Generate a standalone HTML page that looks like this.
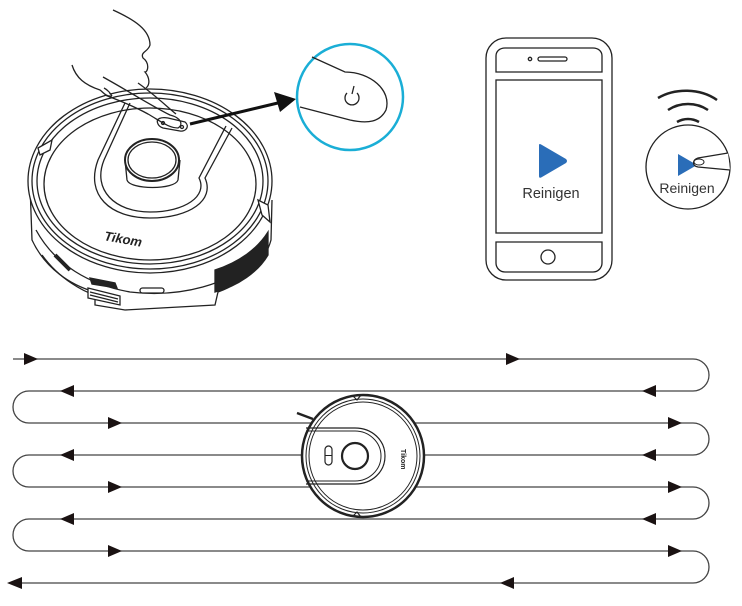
<!DOCTYPE html>
<html><head><meta charset="utf-8"><style>
html,body{margin:0;padding:0;background:#fff;}
svg{display:block;}
text{font-family:"Liberation Sans",sans-serif;}
</style></head><body>
<svg width="742" height="606" viewBox="0 0 742 606" xmlns="http://www.w3.org/2000/svg">

<!-- ===== Robot top-left ===== -->
<g fill="none" stroke="#222" stroke-width="1.3">
  <!-- skirt -->
  <path d="M30,185 L32,240 C45,268 70,285 95,292 L95,305 L125,310 L215,305 L218,292 C245,282 265,262 271,240 L272,200" fill="#fff"/>
  <path d="M36,230 C55,265 90,285 130,292 C180,298 230,285 262,255"/>
  <path d="M42,255 C60,280 85,292 95,295"/>
  <!-- dark side grille -->
  <path d="M215,292 L215,270 C240,262 258,248 268,232 L268,255 C258,272 238,286 215,292z" fill="#222"/>
  <!-- top face -->
  <ellipse cx="150" cy="181" rx="122" ry="92" fill="#fff"/>
  <ellipse cx="150" cy="181" rx="118" ry="88"/>
  <ellipse cx="150" cy="181" rx="113" ry="83"/>
  <ellipse cx="150" cy="184" rx="106" ry="76"/>
  <!-- bumper ends -->
  <path d="M38,148 L52,140 L50,150 L40,155z" fill="#fff"/>
  <path d="M258,200 L268,205 L270,222 L262,215z" fill="#fff"/>
  <!-- D panel -->
  <path d="M125,103 L98,160 C85,195 110,218 150,218 C190,218 215,200 205,178 L232,128"/>
  <path d="M130,103 L104,160 C92,190 115,212 150,212 C185,212 208,196 199,178 L226,126"/>
  <!-- knob -->
  <path d="M125,160 L127,180 C130,190 175,190 178,180 L180,160" fill="#fff"/>
  <ellipse cx="152" cy="160" rx="27" ry="21" fill="#fff" stroke-width="2"/>
  <ellipse cx="152" cy="160" rx="24" ry="18"/>
  <!-- power button -->
  <path d="M158,124 C155,118 162,117 168,118 L185,122 C190,126 186,132 180,131 L163,128 C160,127 159,126 158,124z" fill="#fff"/>
  <circle cx="163" cy="123" r="1.5"/><circle cx="182" cy="127" r="1.5"/>
  <!-- ports -->
  <path d="M55,255 L70,270" stroke-width="4"/>
  <path d="M90,278 L115,283 L117,288 L92,284z" fill="#222"/>
  <path d="M88,288 L120,296 L120,305 L88,298z" fill="#fff"/>
  <path d="M90,292 L118,299 M90,295 L118,302" />
  <rect x="140" y="288" width="24" height="5" rx="2.5"/>
  <!-- hand -->
  <path d="M113,10 C135,20 150,30 150,45 C148,52 140,52 143,58 C150,63 148,72 145,72 C150,78 150,85 146,88" fill="#fff"/>
  <path d="M72,65 C76,78 85,85 100,90 C103,92 106,97 112,96" fill="#fff"/>
  <path d="M103,77 C130,92 150,105 170,115 C182,118 183,125 178,128 C170,128 165,124 148,114 C130,104 112,98 105,95"/>
  <path d="M138,83 C155,95 165,105 176,114"/>
  <path d="M104,88 C108,90 110,93 112,96"/>
</g>
<text x="104" y="243" font-size="13" font-weight="bold" font-style="italic" fill="#222" transform="rotate(10 120 240)">Tikom</text>

<!-- arrow to zoom circle -->
<path d="M190,124 L282,102" stroke="#111" stroke-width="3" fill="none"/>
<path d="M296,99 L274,92 L280,112z" fill="#111"/>
<!-- blue circle -->
<circle cx="350" cy="97" r="53" fill="#fff" stroke="#1aaed6" stroke-width="2.5"/>
<path d="M312,57 L345,72 C370,72 392,90 386,110 C380,122 368,124 350,120 L300,107" fill="none" stroke="#222" stroke-width="1.3"/>
<path d="M347,93 A7,7 0 1 0 357,93" fill="none" stroke="#222" stroke-width="1.3"/>
<path d="M354,86 L352,94" stroke="#222" stroke-width="1.3"/>

<!-- ===== Phone ===== -->
<g fill="none" stroke="#222" stroke-width="1.3">
  <rect x="486" y="38" width="126" height="242" rx="20"/>
  <path d="M496,72 L496,56 C496,51 500,48 505,48 L593,48 C598,48 602,51 602,56 L602,72 z"/>
  <rect x="496" y="80" width="106" height="153"/>
  <path d="M496,242 L602,242 L602,263 C602,268 598,272 593,272 L505,272 C500,272 496,268 496,263 z"/>
  <circle cx="548" cy="257" r="7"/>
  <rect x="538" y="57" width="29" height="4" rx="2"/>
  <circle cx="530" cy="59" r="1.7"/>
  <circle cx="688" cy="167" r="42"/>
  <path d="M658,98 C675,88 700,88 717,100" stroke-width="2.5"/>
  <path d="M668,110 C680,102 696,102 708,110" stroke-width="2.5"/>
  <path d="M677,122 C684,118 692,118 699,122" stroke-width="2.5"/>
</g>
<path d="M539,145 L539,176 Q539,179 542,177 L566,163 Q568,161 566,159 L542,145 Q539,143 539,145z" fill="#2a6db8"/>
<text x="551" y="198" font-size="14.5" fill="#333" text-anchor="middle">Reinigen</text>
<path d="M678,154 L678,176 L697,165z" fill="#2a6db8"/>
<path d="M728,153 L698,158 C692,160 692,166 698,167 L730,170" fill="#fff" stroke="#222" stroke-width="1.2"/>
<ellipse cx="699" cy="162" rx="5" ry="3" fill="#fff" stroke="#222" stroke-width="1"/>
<text x="687" y="193" font-size="14" fill="#333" text-anchor="middle">Reinigen</text>

<!-- ===== Path ===== -->
<g fill="none" stroke="#444" stroke-width="1.3">
  <path d="M13,359 L693,359 A16,16 0 0 1 693,391 L29,391 A16,16 0 0 0 29,423 L693,423 A16,16 0 0 1 693,455 L29,455 A16,16 0 0 0 29,487 L693,487 A16,16 0 0 1 693,519 L29,519 A16,16 0 0 0 29,551 L693,551 A16,16 0 0 1 693,583 L12,583"/>
</g>
<g fill="#1a1212">
  <path d="M24,353 L38,359 L24,365z"/><path d="M506,353 L520,359 L506,365z"/>
  <path d="M108,417 L122,423 L108,429z"/><path d="M668,417 L682,423 L668,429z"/>
  <path d="M108,481 L122,487 L108,493z"/><path d="M668,481 L682,487 L668,493z"/>
  <path d="M108,545 L122,551 L108,557z"/><path d="M668,545 L682,551 L668,557z"/>
  <path d="M74,385 L60,391 L74,397z"/><path d="M656,385 L642,391 L656,397z"/>
  <path d="M74,449 L60,455 L74,461z"/><path d="M656,449 L642,455 L656,461z"/>
  <path d="M74,513 L60,519 L74,525z"/><path d="M656,513 L642,519 L656,525z"/>
  <path d="M22,577 L7,583 L22,589z"/><path d="M514,577 L500,583 L514,589z"/>
</g>

<!-- bottom robot -->
<g fill="none" stroke="#222">
  <path d="M297,413 L313,419" stroke-width="2.5"/>
  <circle cx="363" cy="456" r="61" fill="#fff" stroke-width="2.5"/>
  <circle cx="363" cy="456" r="57" stroke-width="1"/>
  <circle cx="363" cy="456" r="54" stroke-width="1"/>
  <path d="M353,396 L357,400 L361,395 M353,516 L357,512 L361,517" stroke-width="1.2"/>
  <path d="M306,428 L355,428 C372,428 385,440 385,456 C385,472 372,484 355,484 L306,484" stroke-width="1.2"/>
  <path d="M306,431 L355,431 C369,431 381,442 381,456 C381,470 369,481 355,481 L306,481" stroke-width="1"/>
  <circle cx="355" cy="456" r="13" stroke-width="2.2"/>
  <rect x="325" y="446" width="7" height="19" rx="3.5" stroke-width="1.2"/>
  <path d="M325,455.5 L332,455.5" stroke-width="1"/>
</g>
<text x="0" y="0" font-size="7" font-weight="bold" fill="#222" transform="translate(401,449) rotate(90)">Tikom</text>
</svg>
</body></html>
